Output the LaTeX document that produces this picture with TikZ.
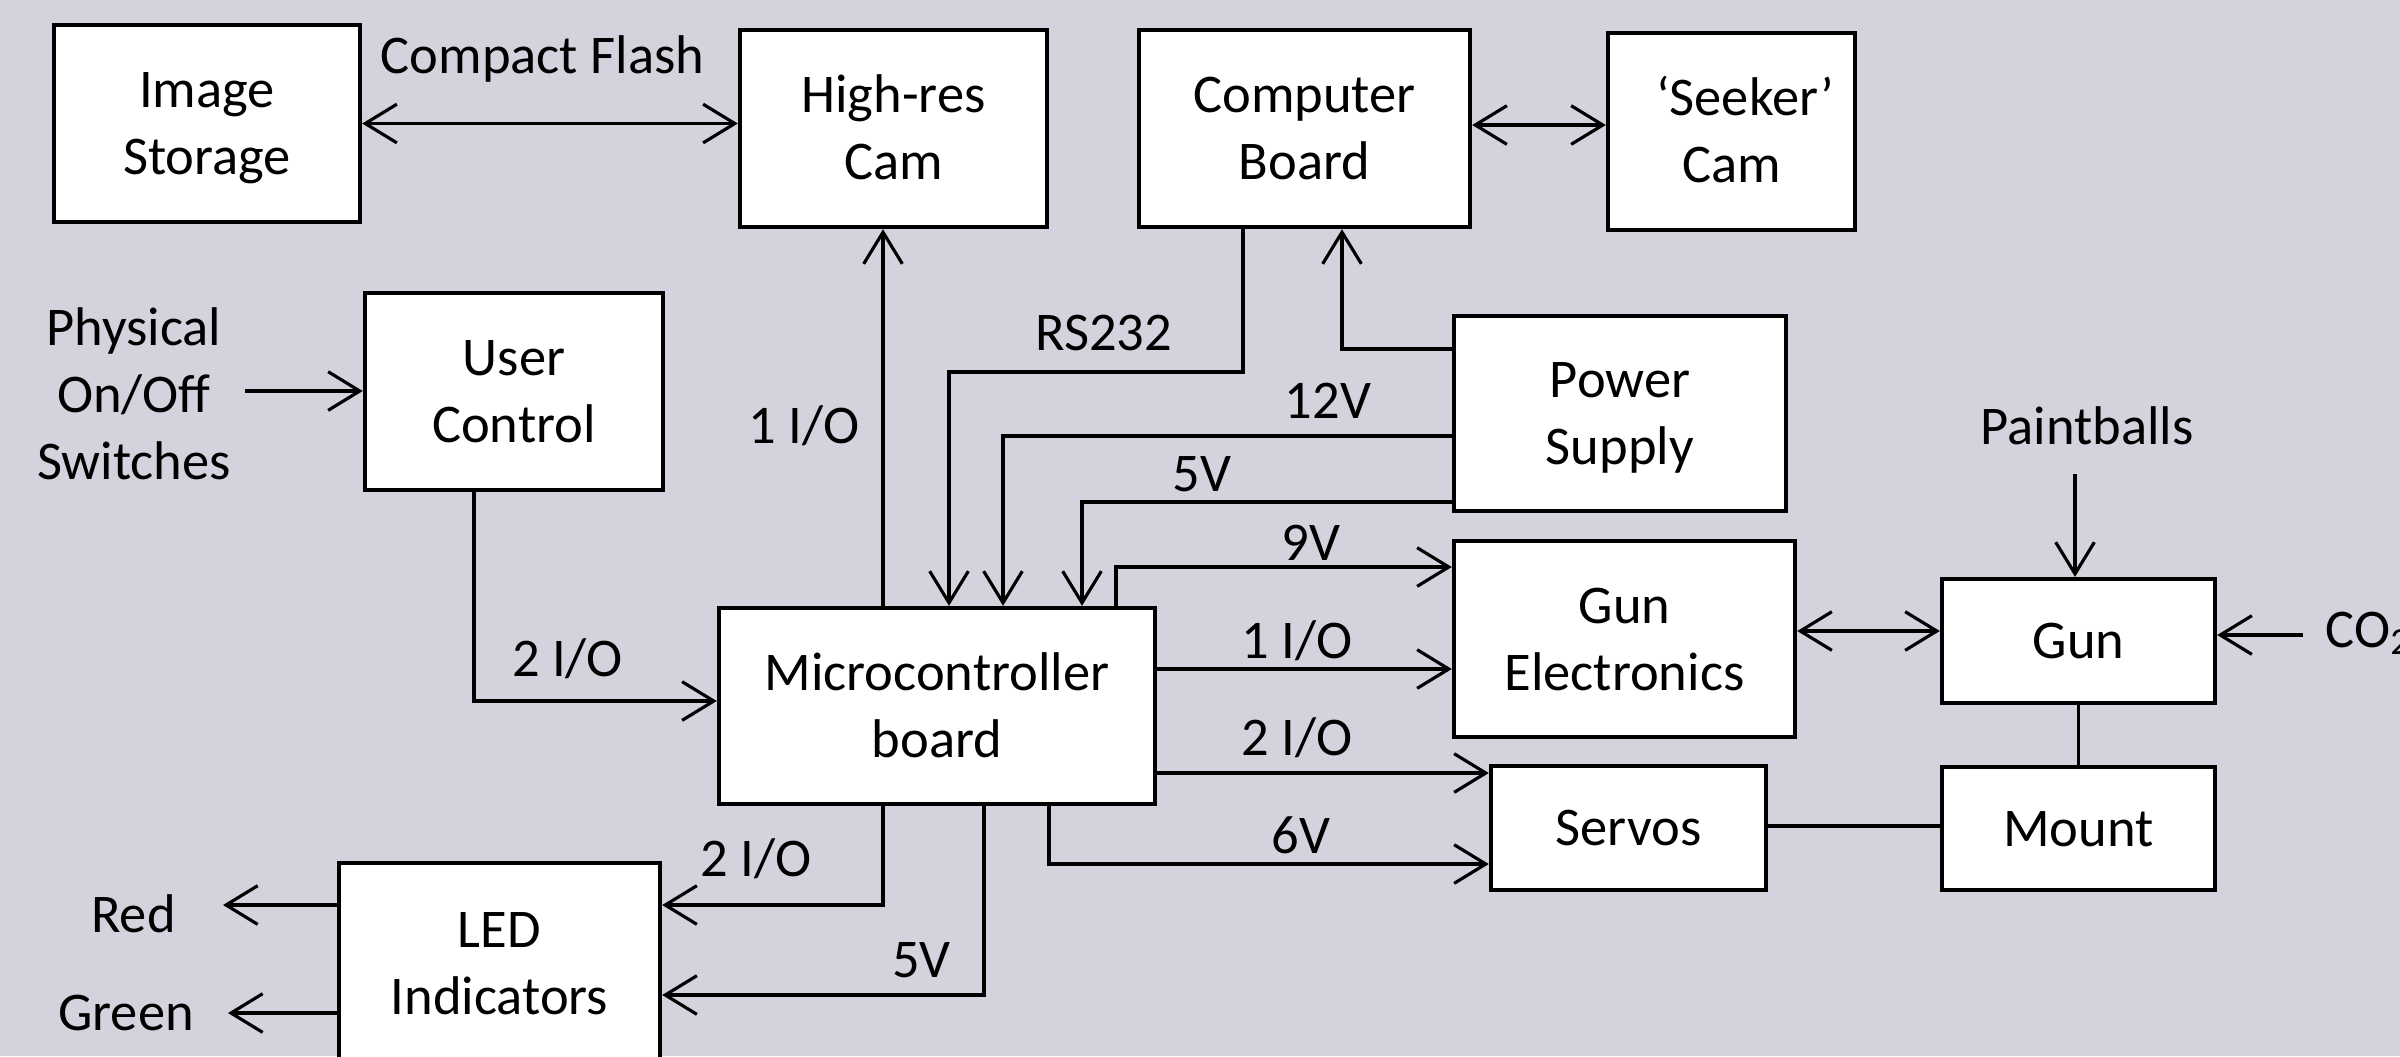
\documentclass[tikz,border=0pt]{standalone}
\usepackage{fontspec}
\setmainfont{Carlito}
\usetikzlibrary{arrows.meta}
\definecolor{bgc}{RGB}{211,211,222}
\newcommand{\mystrut}{\rule[-4pt]{0pt}{18pt}}
\begin{document}
\begin{tikzpicture}[x=0.01cm,y=-0.01cm,
  txt/.style={font=\fontsize{15.5pt}{19pt}\selectfont},
  box/.style={txt,draw,line width=1.2pt,fill=white,align=center,inner sep=0pt},
  lbl/.style={txt,inner sep=0pt,align=center},
  conn/.style={line width=0.9pt},
  arr/.style={conn,-{Straight Barb[length=9pt,width=11pt]}},
  darr/.style={conn,{Straight Barb[length=9pt,width=11pt]}-{Straight Barb[length=9pt,width=11pt]}}
]
\useasboundingbox[fill=bgc] (0,0) rectangle (2400,1056);

% boxes
\node[box,minimum width=3.06cm,minimum height=1.97cm] (storage) at (207,123.5) {\mystrut Image\\\mystrut Storage};
\node[box,minimum width=3.07cm,minimum height=1.97cm] (hires) at (893.5,128.5) {\mystrut High-res\\\mystrut Cam};
\node[box,minimum width=3.31cm,minimum height=1.97cm] (computer) at (1304.5,128.5) {\mystrut Computer\\\mystrut Board};
\node[box,minimum width=2.47cm,minimum height=1.97cm] (seeker) at (1731.5,131.5) {\mystrut\hspace*{0.5em}‘Seeker’\\\mystrut Cam};
\node[box,minimum width=2.98cm,minimum height=1.97cm] (user) at (514,391.5) {\mystrut User\\\mystrut Control};
\node[box,minimum width=3.32cm,minimum height=1.95cm] (power) at (1620,413.5) {\mystrut Power\\\mystrut Supply};
\node[box,minimum width=4.36cm,minimum height=1.96cm] (micro) at (937,706) {\mystrut Microcontroller\\\mystrut board};
\node[box,minimum width=3.41cm,minimum height=1.96cm] (gunel) at (1624.5,639) {\mystrut Gun\\\mystrut Electronics};
\node[box,minimum width=2.73cm,minimum height=1.24cm] (gun) at (2078.5,641) {\mystrut Gun};
\node[box,minimum width=2.75cm,minimum height=1.24cm] (servos) at (1628.5,828) {\mystrut Servos};
\node[box,minimum width=2.73cm,minimum height=1.23cm] (mount) at (2078.5,828.5) {\mystrut Mount};
\node[box,minimum width=3.21cm,minimum height=2.00cm] (led) at (499.5,963) {\mystrut LED\\\mystrut Indicators};

% free labels
\node[lbl] (lcf) at (542.5,55.5) {\mystrut Compact Flash};
\node[lbl] (phys) at (134,395) {\mystrut Physical\\\mystrut On/Off\\\mystrut Switches};
\node[lbl] (l1io) at (804,425.5) {\mystrut 1 I/O};
\node[lbl] (lrs) at (1103.5,332.5) {\mystrut RS232};
\node[lbl] (l12v) at (1328,400.5) {\mystrut 12V};
\node[lbl] (l5v) at (1202,473.5) {\mystrut 5V};
\node[lbl] (l9v) at (1311,542.5) {\mystrut 9V};
\node[lbl] (l1ior) at (1297,640.5) {\mystrut 1 I/O};
\node[lbl] (l2ior) at (1297,737.5) {\mystrut 2 I/O};
\node[lbl] (l6v) at (1301,835.5) {\mystrut 6V};
\node[lbl] (l2iol) at (567.5,658.5) {\mystrut 2 I/O};
\node[lbl] (l2iob) at (756,858.5) {\mystrut 2 I/O};
\node[lbl] (l5vb) at (921.5,959.5) {\mystrut 5V};
\node[lbl] (lred) at (133.5,914.5) {\mystrut Red};
\node[lbl] (lgreen) at (126,1012.5) {\mystrut Green};
\node[lbl] (lpaint) at (2087,426.5) {\mystrut Paintballs};
\node[lbl,anchor=west] (lco2) at (2325,629.5) {\mystrut CO\textsubscript{2}};

% free ends
\coordinate (physend) at (245,391);
\coordinate (redend) at (223,905);
\coordinate (greenend) at (228,1013);
\coordinate (paintend) at (2075,474);
\coordinate (co2end) at (2303,635);

% connectors
\draw[darr] (storage.east) -- (storage.east -| hires.west);
\draw[darr] (computer.east |- 0,125) -- (seeker.west |- 0,125);
\draw[arr] (physend) -- (user.west |- physend);
\draw[arr] (user.south -| 474,0) |- (micro.west |- 0,701);
\draw[arr] (micro.north -| 883,0) -- (hires.south -| 883,0);
\draw[arr] (computer.south -| 1243,0) -- (1243,372) -| (micro.north -| 949,0);
\draw[arr] (power.west |- 0,349) -| (computer.south -| 1342,0);
\draw[arr] (power.west |- 0,436) -| (micro.north -| 1003,0);
\draw[arr] (power.west |- 0,502) -| (micro.north -| 1082,0);
\draw[arr] (micro.north -| 1116,0) |- (gunel.west |- 0,567);
\draw[arr] (micro.east |- 0,669) -- (gunel.west |- 0,669);
\draw[arr] (micro.east |- 0,773) -- (servos.west |- 0,773);
\draw[arr] (micro.south -| 1049,0) |- (servos.west |- 0,864);
\draw[arr] (micro.south -| 883,0) |- (led.east |- 0,905);
\draw[arr] (micro.south -| 984,0) |- (led.east |- 0,995);
\draw[arr] (led.west |- redend) -- (redend);
\draw[arr] (led.west |- greenend) -- (greenend);
\draw[darr] (gunel.east |- 0,631) -- (gun.west |- 0,631);
\draw[arr] (paintend) -- (gun.north -| paintend);
\draw[arr] (co2end) -- (gun.east |- co2end);
\draw[conn] (gun.south) -- (mount.north);
\draw[conn] (servos.east |- 0,826) -- (mount.west |- 0,826);
\end{tikzpicture}
\end{document}
